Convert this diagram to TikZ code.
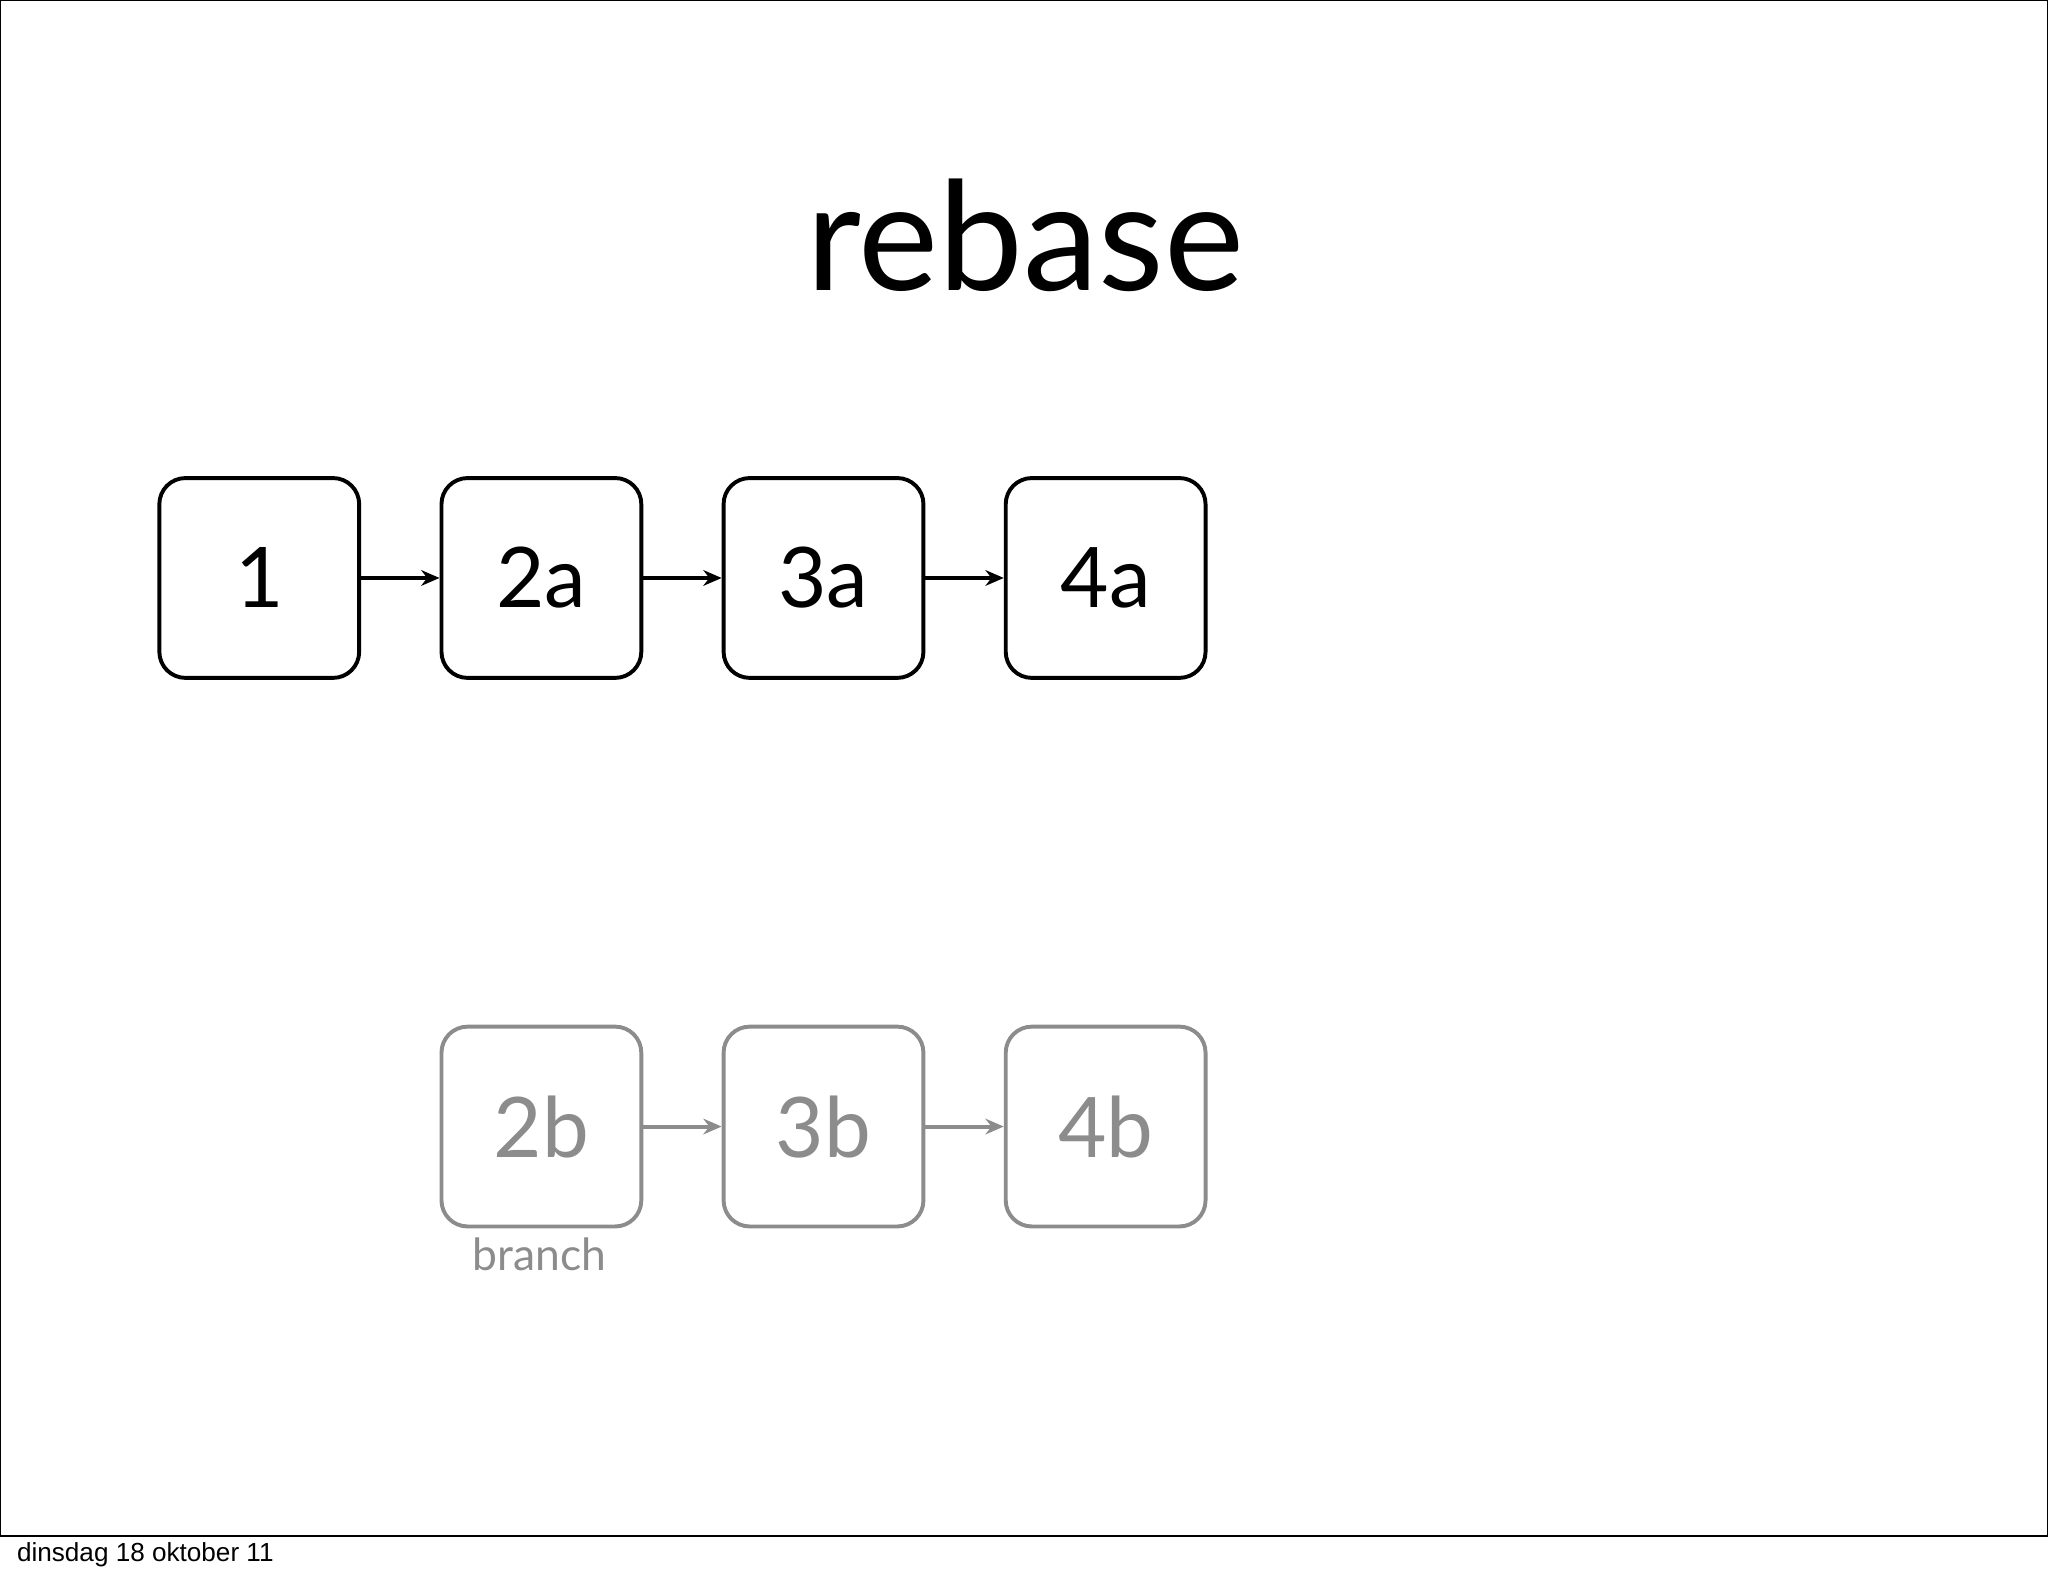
\documentclass[tikz,border=0pt]{standalone}
\usepackage{fontspec}
\setmainfont{Lato}
\newfontfamily\footfont{Liberation Sans}
\usetikzlibrary{arrows.meta}
\begin{document}
\begin{tikzpicture}[x=0.5pt,y=-0.5pt,
  box/.style={draw, line width=1.5pt, rounded corners=10pt, minimum width=76.5pt, minimum height=76.5pt, font=\fontsize{32}{36}\selectfont, inner sep=0pt},
  gbox/.style={box, draw=gray!90, text=gray!90},
  arr/.style={line width=1.5pt, -{Stealth[length=7pt,width=6pt]}},
  garr/.style={arr, draw=gray!90}]
\useasboundingbox (0,0) rectangle (1568,1206);
\draw[line width=0.6pt] (0.5,0.5) rectangle (1567.5,1176);
\node[font=\fontsize{58}{60}\selectfont] (title) at (785,180) {rebase};
\node[box] (n1) at (198.5,442.5) {1};
\node[box] (n2a) at (414.5,442.5) {2a};
\node[box] (n3a) at (630.5,442.5) {3a};
\node[box] (n4a) at (846.5,442.5) {4a};
\node[gbox] (n2b) at (414.5,862.5) {2b};
\node[gbox] (n3b) at (630.5,862.5) {3b};
\node[gbox] (n4b) at (846.5,862.5) {4b};
\node[text=gray!90, font=\fontsize{17}{20}\selectfont] (br) at (413,960) {branch};
\draw[arr] (n1) -- (n2a);
\draw[arr] (n2a) -- (n3a);
\draw[arr] (n3a) -- (n4a);
\draw[garr] (n2b) -- (n3b);
\draw[garr] (n3b) -- (n4b);
\node[anchor=west, font=\footfont\fontsize{10}{12}\selectfont] (foot) at (6,1190) {dinsdag 18 oktober 11};
\end{tikzpicture}
\end{document}
